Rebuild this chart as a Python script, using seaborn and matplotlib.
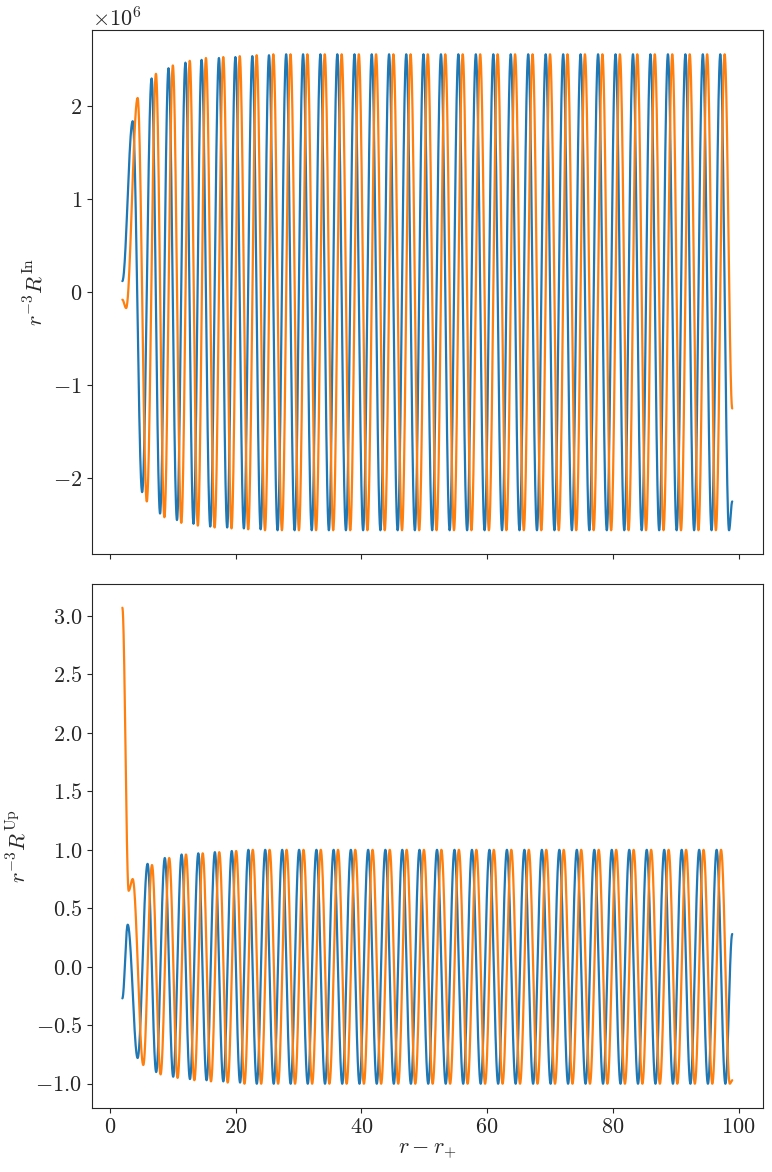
import numpy as np
import pandas as pd
import matplotlib
matplotlib.use("Agg")
import matplotlib.pyplot as plt
import seaborn as sns

sns.set_style("ticks")
plt.rcParams.update({
    "font.family": "serif", "font.serif": ["cmr10"], "mathtext.fontset": "cm",
    "axes.formatter.use_mathtext": True, "font.size": 16,
    "axes.unicode_minus": True,
})

# ---- data (extrema of each curve) ----
# top panel (R^In, units of 1e6)
in_blue_start = (2.0, 0.12)
in_blue_peak_x = [3.64, 6.65, 9.34, 12.03, 14.60, 17.36, 19.98, 22.67, 25.32, 28.05, 30.74,
                  33.50, 36.19, 38.92, 41.66, 44.42, 47.15, 49.89, 52.67, 55.44, 58.22, 61.00,
                  63.77, 66.55, 69.33, 72.11, 74.88, 77.66, 80.44, 83.21, 85.99, 88.77, 91.55,
                  94.32, 97.10]
in_blue_peak_y = [1.84, 2.30, 2.41, 2.47, 2.50, 2.52, 2.53, 2.54, 2.55] + [2.56] * 26
in_blue_trough_y = [-2.15, -2.38, -2.45, -2.49, -2.52, -2.53, -2.54, -2.55] + [-2.56] * 27
in_blue_end = (99.0, -2.25)

in_orange_start = [(2.0, -0.08), (2.6, -0.17)]
in_orange_peak_x = [4.43, 7.34, 10.03, 12.72, 15.29, 18.05, 20.67, 23.36, 26.01, 28.74, 31.43,
                    34.19, 36.88, 39.61, 42.35, 45.11, 47.84, 50.58, 53.36, 56.13, 58.91, 61.69,
                    64.46, 67.24, 70.02, 72.80, 75.57, 78.35, 81.13, 83.90, 86.68, 89.46, 92.24,
                    95.01, 97.79]
in_orange_peak_y = [2.09, 2.35, 2.44, 2.49, 2.52, 2.53, 2.54, 2.55] + [2.56] * 27
in_orange_trough_y = [-2.25, -2.42, -2.48, -2.51, -2.53, -2.54, -2.55] + [-2.56] * 27
in_orange_end = (99.0, -1.25)

# bottom panel (R^Up)
up_blue_start = (2.0, -0.27)
up_blue_peak_x = [2.85, 6.01, 8.75, 11.42, 14.08, 16.71, 19.40, 22.04, 24.72, 27.42, 30.11,
                  32.86, 35.60, 38.34, 41.09, 43.83, 46.52, 49.26, 52.04, 54.82, 57.60, 60.38,
                  63.16, 65.94, 68.72, 71.50, 74.28, 77.06, 79.84, 82.62, 85.40, 88.18, 90.96,
                  93.74, 96.52]
up_blue_peak_y = [0.36, 0.88, 0.93, 0.96, 0.97, 0.98, 0.99] + [1.0] * 28
up_blue_trough_y = [-0.78, -0.90, -0.94, -0.96, -0.97, -0.98, -0.99] + [-1.0] * 28
up_blue_end = (99.0, 0.28)

up_orange_start = [(2.0, 3.07), (3.0, 0.65), (3.64, 0.75), (5.33, -0.84)]
up_orange_peak_x = [6.71, 9.45, 12.12, 14.78, 17.41, 20.10, 22.74, 25.42, 28.12, 30.81, 33.56,
                    36.30, 39.04, 41.79, 44.53, 47.22, 49.96, 52.74, 55.52, 58.30, 61.08, 63.86,
                    66.64, 69.42, 72.20, 74.98, 77.76, 80.54, 83.32, 86.10, 88.88, 91.66, 94.44,
                    97.22]
up_orange_peak_y = [0.87, 0.93, 0.96, 0.97, 0.98, 0.99] + [1.0] * 28
up_orange_trough_y = [-0.92, -0.95, -0.97, -0.98, -0.99] + [-1.0] * 29
up_orange_end = (99.0, -0.97)

BLUE, ORANGE = "#1f77b4", "#ff7f0e"


def nodes_alternating(peak_x, peak_y, trough_y, last_trough_dx=None):
    nodes = []
    for i, (px, py) in enumerate(zip(peak_x, peak_y)):
        nodes.append((px, py))
        if i + 1 < len(peak_x):
            nodes.append(((px + peak_x[i + 1]) / 2, trough_y[i]))
        elif last_trough_dx is not None:
            nodes.append((px + last_trough_dx, trough_y[i]))
    return nodes


def smooth(nodes, n=40):
    xs, ys = [], []
    for (x0, y0), (x1, y1) in zip(nodes[:-1], nodes[1:]):
        t = np.linspace(0, 1, n, endpoint=False)
        xs.append(x0 + (x1 - x0) * t)
        ys.append(y0 + (y1 - y0) * (1 - np.cos(np.pi * t)) / 2)
    xs.append([nodes[-1][0]]); ys.append([nodes[-1][1]])
    return pd.DataFrame({"x": np.concatenate(xs), "y": np.concatenate(ys)})


in_blue = [in_blue_start] + nodes_alternating(in_blue_peak_x, in_blue_peak_y, in_blue_trough_y, 1.39) + [in_blue_end]
in_orange = in_orange_start + nodes_alternating(in_orange_peak_x, in_orange_peak_y, in_orange_trough_y) + [in_orange_end]
up_blue = [up_blue_start] + nodes_alternating(up_blue_peak_x, up_blue_peak_y, up_blue_trough_y, 1.39) + [up_blue_end]
up_orange = up_orange_start + nodes_alternating(up_orange_peak_x, up_orange_peak_y, up_orange_trough_y, 1.39) + [up_orange_end]

fig, (ax1, ax2) = plt.subplots(2, 1, figsize=(7.72, 11.72), dpi=100, sharex=True)
fig.subplots_adjust(left=0.119, right=0.988, top=0.974, bottom=0.055, hspace=0.057)

for nodes, c in [(in_blue, BLUE), (in_orange, ORANGE)]:
    d = smooth(nodes); d["y"] *= 1e6
    sns.lineplot(data=d, x="x", y="y", color=c, ax=ax1, sort=False, estimator=None, lw=1.6)
for nodes, c in [(up_blue, BLUE), (up_orange, ORANGE)]:
    d = smooth(nodes)
    sns.lineplot(data=d, x="x", y="y", color=c, ax=ax2, sort=False, estimator=None, lw=1.6)

ax1.set_ylabel(r"$r^{-3}R^{\rm In}$")
ax2.set_ylabel(r"$r^{-3}R^{\rm Up}$")
ax1.set_xlabel("")
ax2.set_xlabel(r"$r - r_{+}$")
ax2.set_yticks(np.arange(-1.0, 3.01, 0.5))
ax1.set_xticks([0, 20, 40, 60, 80, 100])
for ax in (ax1, ax2):
    ax.tick_params(labelsize=16)

fig.savefig("out.png", dpi=100)
